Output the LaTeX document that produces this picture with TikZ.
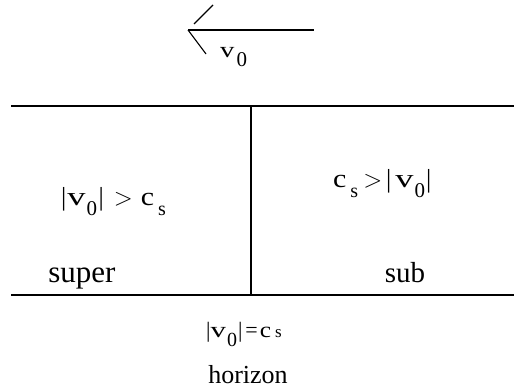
\documentclass[tikz,border=0pt]{standalone}
\usepackage{fontspec}
\usepackage{graphicx}
\setmainfont{Liberation Serif}
\newcommand{\fsz}[1]{\fontsize{#1}{#1}\selectfont}
\newcommand{\lo}[2]{\raisebox{-#1pt}{#2}}
\newcommand{\Vv}{\scalebox{1.4}[1]{v}}
\newcommand{\Cc}{\scalebox{1.15}[1]{c}}
\newcommand{\Zero}{\lo{10}{\fsz{21}0}}
\newcommand{\Sub}{\lo{10}{\fsz{20}s}}
\begin{document}
\begin{tikzpicture}[x=1pt,y=-1pt,
  rule/.style={line width=1.1pt},
  lbl/.style={inner sep=0pt,anchor=base west},
  mth/.style={lbl,font=\fsz{26}},
  word/.style={inner sep=0pt,anchor=base}]
\useasboundingbox (0,0) rectangle (514,391);
% flow arrow
\coordinate (a0) at (188,30);
\coordinate (a1) at (314,30);
\coordinate (h1) at (206,54);
\coordinate (h2a) at (194,24);
\coordinate (h2b) at (213,5);
\draw[rule] (a0) -- (a1);
\draw[rule] (a0) -- (h1);
\draw[rule] (h2a) -- (h2b);
\node[lbl,font=\fsz{22}] (v0) at (220,57) {\scalebox{1.3}[1]{v}\hspace{2pt}\lo{9}{\fsz{21}0}};
% region lines
\coordinate (tl) at (11,106);
\coordinate (tr) at (514,106);
\coordinate (bl) at (11,295);
\coordinate (br) at (514,295);
\coordinate (vt) at (251,106);
\coordinate (vb) at (251,295);
\draw[rule] (tl) -- (tr);
\draw[rule] (bl) -- (br);
\draw[rule] (vt) -- (vb);
% labels
\node[mth] (lsup) at (61,205) {|\hspace{1pt}\Vv\hspace{1pt}\Zero\hspace{1.5pt}|\hspace{10pt}$>$\hspace{8pt}\Cc\hspace{4pt}\Sub};
\node[mth] (rsub) at (333,187) {\Cc\hspace{4pt}\Sub\hspace{5pt}$>$\hspace{4pt}|\hspace{4pt}\Vv\hspace{1pt}\Zero\hspace{1pt}|};
\node[word,font=\fsz{31}] (super) at (82,282) {super};
\node[word,font=\fsz{29}] (sub) at (405,282) {sub};
\node[lbl,font=\fsz{22}] (hz) at (206,337) {|\scalebox{1.4}[1]{v}\hspace{1pt}\lo{9}{\fsz{20}0}\hspace{1pt}|\hspace{3pt}=\hspace{2pt}\scalebox{1.15}[1]{c}\hspace{4pt}{\fsz{17}s}};
\node[word,font=\fsz{26}] (horizon) at (248,383) {horizon};
\end{tikzpicture}
\end{document}
